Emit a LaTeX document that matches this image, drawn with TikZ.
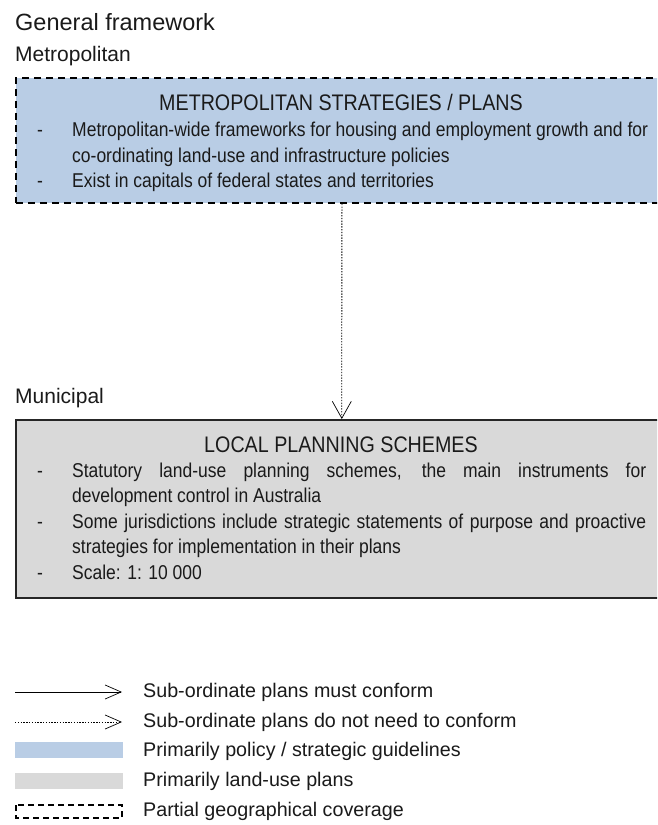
\documentclass[tikz,border=0pt]{standalone}
\usepackage{fontspec}
\setmainfont{Liberation Sans}
\newfontfamily\narrowf{Liberation Sans}[FakeStretch=0.875]
\usetikzlibrary{arrows.meta}
\definecolor{txt}{HTML}{1A1A1A}
\definecolor{polblue}{HTML}{B9CDE5}
\definecolor{landgray}{HTML}{D9D9D9}
\tikzset{
  heading/.style={anchor=base west, inner sep=0pt, text=txt, font=\fontsize{23.5}{28}\selectfont},
  level/.style={anchor=base west, inner sep=0pt, text=txt, font=\fontsize{21}{25}\selectfont},
  boxtitle/.style={anchor=base, inner sep=0pt, text=txt, font=\narrowf\fontsize{22.5}{26}\selectfont},
  bodyline/.style={anchor=base west, inner sep=0pt, text=txt, font=\narrowf\fontsize{20}{25}\selectfont},
  legtext/.style={anchor=base west, inner sep=0pt, text=txt, font=\fontsize{19.7}{24}\selectfont},
  metrobox/.style={draw=black, fill=polblue, line width=1.8pt, dash pattern=on 7pt off 5pt, inner sep=0pt, anchor=north west},
  localbox/.style={draw=black!85, fill=landgray, line width=1.6pt, inner sep=0pt, anchor=north west},
  dotarrow/.style={line width=0.8pt, dash pattern=on 1.4pt off 1.4pt, -{Straight Barb[length=17pt, width=19pt, line width=0.7pt]}},
  solidarrow/.style={line width=0.7pt, -{Straight Barb[length=16pt, width=14pt, line width=0.7pt]}},
  legdotarrow/.style={line width=0.8pt, dash pattern=on 1.4pt off 1.4pt, -{Straight Barb[length=16pt, width=14pt, line width=0.7pt]}},
}
\begin{document}
\begin{tikzpicture}[x=1pt, y=-1pt]
\useasboundingbox (0,0) rectangle (657,825);
\clip (0,0) rectangle (657,825);
\fill[white] (0,0) rectangle (657,825);

% headings
\node[heading] (gf) at (15,30) {General framework};
\node[level] (metlab) at (15,61) {Metropolitan};
\node[level] (munlab) at (15,403) {Municipal};

% boxes
\node[metrobox, minimum width=652pt, minimum height=125pt] (metro) at (15,77) {};
\node[localbox, minimum width=652pt, minimum height=178pt] (local) at (15,419) {};

% metro text
\node[boxtitle] (mt) at (341,110) {METROPOLITAN STRATEGIES / PLANS};
\node[bodyline] (md1) at (37,136) {-};
\node[bodyline] (m1) at (72,136) {Metropolitan-wide frameworks for housing and employment growth and for};
\node[bodyline] (m2) at (72,162) {co-ordinating land-use and infrastructure policies};
\node[bodyline] (md2) at (37,187) {-};
\node[bodyline] (m3) at (72,187) {Exist in capitals of federal states and territories};

% local text
\node[boxtitle] (lt) at (341,452) {LOCAL PLANNING SCHEMES};
\node[bodyline] (ld1) at (37,477) {-};
\node[bodyline] (l1) at (72,477) {\makebox[574pt][s]{Statutory land-use planning schemes, the main instruments for}};
\node[bodyline] (l2) at (72,502) {development control in Australia};
\node[bodyline] (ld2) at (37,528) {-};
\node[bodyline] (l3) at (72,528) {\makebox[574pt][s]{Some jurisdictions include strategic statements of purpose and proactive}};
\node[bodyline] (l4) at (72,553) {strategies for implementation in their plans};
\node[bodyline] (ld3) at (37,579) {-};
\node[bodyline] (l5) at (72,579) {Scale: 1: 10 000};

% connector
\draw[dotarrow] (metro.south) -- (local.north);

% legend
\coordinate (a1s) at (15,692);
\coordinate (a1e) at (122,692);
\draw[solidarrow] (a1s) -- (a1e);
\node[legtext] (lg1) at (143,697) {Sub-ordinate plans must conform};
\coordinate (a2s) at (15,722);
\coordinate (a2e) at (122,722);
\draw[legdotarrow] (a2s) -- (a2e);
\node[legtext] (lg2) at (143,727) {Sub-ordinate plans do not need to conform};
\fill[polblue] (15,742) rectangle (123,758);
\node[legtext] (lg3) at (143,756) {Primarily policy / strategic guidelines};
\fill[landgray] (15,773) rectangle (123,789);
\node[legtext] (lg4) at (143,786) {Primarily land-use plans};
\draw[line width=1.4pt, dash pattern=on 6pt off 4pt] (16,805) rectangle (122,818);
\node[legtext] (lg5) at (143,816) {Partial geographical coverage};
\end{tikzpicture}
\end{document}
